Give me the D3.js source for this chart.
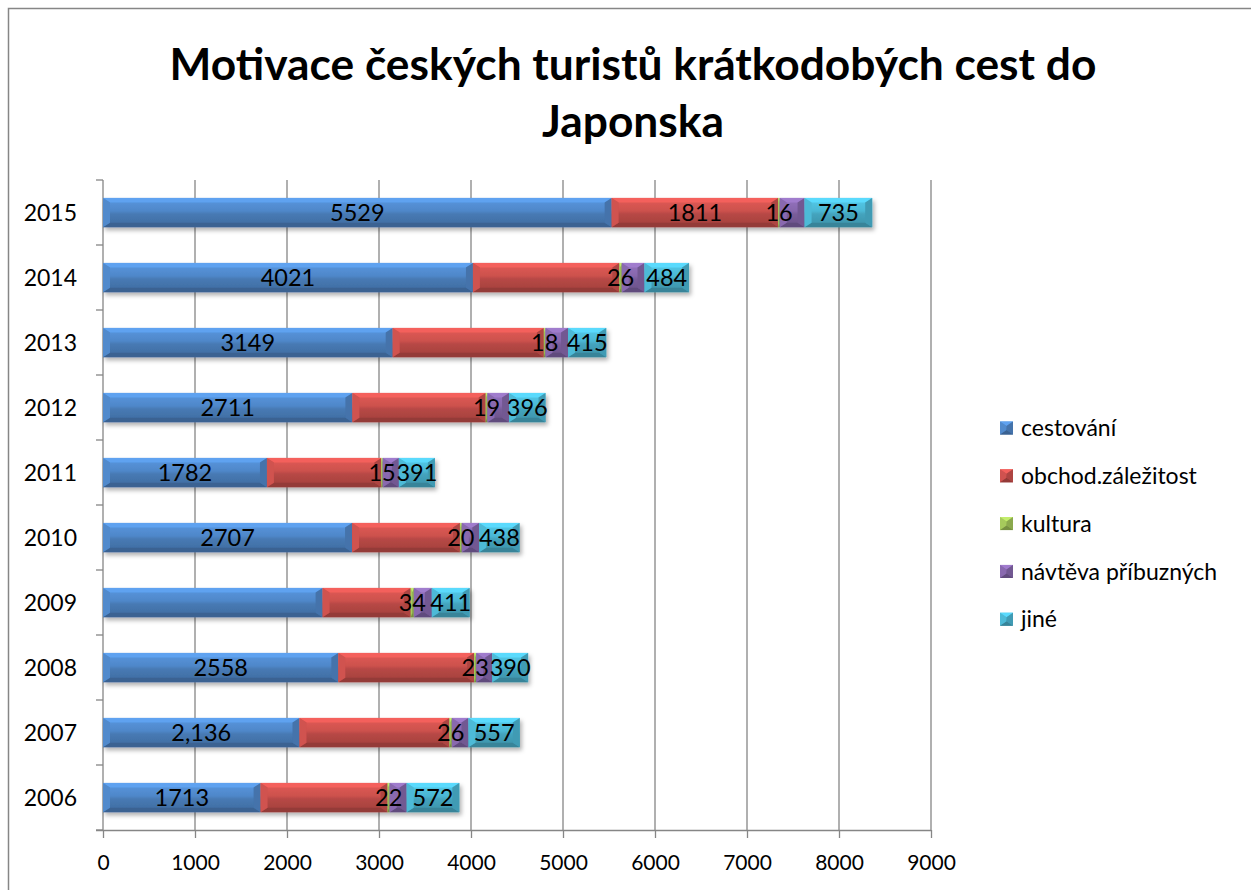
<!DOCTYPE html>
<html>
<head>
<meta charset="utf-8">
<script src="https://cdn.jsdelivr.net/npm/d3@7"></script>
<style>
  body { margin: 0; background: #fff; }
  text { font-family: Lato, "Open Sans", sans-serif; }
</style>
</head>
<body>
<div class="chart"></div>
<script>
// data
const years = ["2006", "2007", "2008", "2009", "2010", "2011", "2012", "2013", "2014", "2015"];
const seriesNames = ["cestování", "obchod.záležitost", "kultura", "návtěva příbuzných", "jiné"];
const cestovani = [1713, 2136, 2558, 2387, 2707, 1782, 2711, 3149, 4021, 5529];
const obchod = [1381, 1630, 1476, 958, 1173, 1244, 1449, 1643, 1592, 1811];
const kultura = [22, 26, 23, 34, 20, 15, 19, 18, 26, 16];
const navsteva = [185, 181, 174, 195, 190, 175, 235, 245, 247, 270];
const jine = [572, 557, 390, 411, 438, 391, 396, 415, 484, 735];
const xTicks = [0, 1000, 2000, 3000, 4000, 5000, 6000, 7000, 8000, 9000];

// which data labels are visible in the original
const labelShown = [
    y => y !== "2009",
    y => y === "2015",
    y => true,
    y => false,
    y => true
];
const commaYears = ["2007"];

const W = 1251, H = 890;
const colors = ["#4a7ebb", "#be4b48", "#98b954", "#7d60a0", "#46aac5"];
const gridColor = "#868686";

const svg = d3.select(".chart").append("svg")
    .attr("width", W)
    .attr("height", H);

const defs = svg.append("defs");
const shadow = defs.append("filter").attr("id", "shadow")
    .attr("x", "-5%").attr("y", "-30%").attr("width", "110%").attr("height", "170%");
shadow.append("feDropShadow")
    .attr("dx", 2).attr("dy", 3).attr("stdDeviation", 2)
    .attr("flood-color", "#000").attr("flood-opacity", 0.3);

colors.forEach((c, i) => {
    const g = defs.append("linearGradient").attr("id", "grad" + i)
        .attr("x1", 0).attr("y1", 0).attr("x2", 0).attr("y2", 1);
    g.append("stop").attr("offset", "0%").attr("stop-color", d3.color(c).brighter(0.5));
    g.append("stop").attr("offset", "45%").attr("stop-color", d3.color(c).brighter(0.2));
    g.append("stop").attr("offset", "55%").attr("stop-color", d3.color(c).darker(0.1));
    g.append("stop").attr("offset", "100%").attr("stop-color", d3.color(c).darker(0.45));
});

// chart frame
svg.append("rect")
    .attr("x", 8.5).attr("y", 8.5)
    .attr("width", 1400).attr("height", 1000)
    .attr("fill", "none")
    .attr("stroke", gridColor)
    .attr("stroke-width", 1.5);

// title
const titleLines = ["Motivace českých turistů krátkodobých cest do", "Japonska"];
const title = svg.append("g").attr("class", "title");
const t1 = title.append("text")
    .attr("x", 633).attr("y", 80)
    .attr("text-anchor", "middle")
    .style("font-weight", "bold")
    .style("font-size", "40px")
    .text(titleLines[0]);
const fit = 40 * 927 / t1.node().getComputedTextLength();
t1.style("font-size", fit + "px");
title.append("text")
    .attr("x", 633).attr("y", 137)
    .attr("text-anchor", "middle")
    .style("font-weight", "bold")
    .style("font-size", fit + "px")
    .text(titleLines[1]);

// scales
const x = d3.scaleLinear()
    .domain([0, 9000])
    .range([103, 931]);

const y = d3.scaleBand()
    .domain(years.slice().reverse())
    .range([180, 830])
    .paddingInner(0.55)
    .paddingOuter(0.275);

// gridlines
svg.append("g").selectAll("line")
    .data(xTicks.slice(1))
    .enter()
    .append("line")
    .attr("x1", d => x(d)).attr("x2", d => x(d))
    .attr("y1", 180).attr("y2", 830)
    .attr("stroke", gridColor)
    .attr("stroke-width", 1.3);

// y axis line and ticks between categories
svg.append("line")
    .attr("x1", x(0)).attr("x2", x(0))
    .attr("y1", 180).attr("y2", 830)
    .attr("stroke", gridColor).attr("stroke-width", 1.3);
svg.append("g").selectAll("line")
    .data(d3.range(years.length + 1))
    .enter()
    .append("line")
    .attr("x1", x(0) - 7).attr("x2", x(0))
    .attr("y1", i => 180 + i * y.step())
    .attr("y2", i => 180 + i * y.step())
    .attr("stroke", gridColor).attr("stroke-width", 1.3);

// year labels
svg.append("g").selectAll("text")
    .data(years)
    .enter()
    .append("text")
    .attr("x", 77)
    .attr("y", d => y(d) + y.bandwidth() / 2)
    .attr("dy", "0.36em")
    .attr("text-anchor", "end")
    .style("font-size", "23px")
    .text(d => d);

// x axis
const xAxis = svg.append("g")
    .attr("transform", "translate(0,830)")
    .call(d3.axisBottom(x).tickValues(xTicks).tickSize(8).tickPadding(17).tickFormat(d3.format("d")));
xAxis.select(".domain").attr("stroke", gridColor).attr("stroke-width", 1.3)
    .attr("d", `M${x(0) - 7},0.5H${x(9000)}`);
xAxis.selectAll(".tick line").attr("stroke", gridColor).attr("stroke-width", 1.3);
xAxis.selectAll(".tick text")
    .style("font-family", "Lato, sans-serif")
    .style("font-size", "21px")
    .attr("fill", "#000");

// stacked data
const allSeries = [cestovani, obchod, kultura, navsteva, jine];
const rows = years.map((yr, i) => {
    const r = { year: yr };
    seriesNames.forEach((s, k) => r[s] = allSeries[k][i]);
    return r;
});
const stacked = d3.stack().keys(seriesNames)(rows);

function bevel(g, x0, x1, y0, y1, k) {
    const c = d3.color(colors[k]);
    const w = x1 - x0, h = y1 - y0;
    const b = Math.min(7, w / 2), t = Math.min(4.5, h / 2);
    const poly = pts => pts.map(p => p.join(",")).join(" ");
    g.append("rect")
        .attr("x", x0).attr("y", y0).attr("width", w).attr("height", h)
        .attr("fill", `url(#grad${k})`);
    g.append("polygon")
        .attr("points", poly([[x0, y0], [x1, y0], [x1 - b, y0 + t], [x0 + b, y0 + t]]))
        .attr("fill", c.brighter(0.7));
    g.append("polygon")
        .attr("points", poly([[x0, y1], [x1, y1], [x1 - b, y1 - t], [x0 + b, y1 - t]]))
        .attr("fill", c.darker(0.7));
    g.append("polygon")
        .attr("points", poly([[x0, y0], [x0 + b, y0 + t], [x0 + b, y1 - t], [x0, y1]]))
        .attr("fill", c.brighter(0.25));
    g.append("polygon")
        .attr("points", poly([[x1, y0], [x1 - b, y0 + t], [x1 - b, y1 - t], [x1, y1]]))
        .attr("fill", c.darker(0.25));
}

const bars = svg.append("g").attr("filter", "url(#shadow)");
stacked.forEach((layer, k) => {
    layer.forEach(d => {
        const g = bars.append("g");
        bevel(g, x(d[0]), x(d[1]), y(d.data.year), y(d.data.year) + y.bandwidth(), k);
    });
});

// data labels
const labels = svg.append("g");
stacked.forEach((layer, k) => {
    labels.selectAll(null)
        .data(layer.filter(d => labelShown[k](d.data.year)))
        .enter()
        .append("text")
        .attr("x", d => x((d[0] + d[1]) / 2))
        .attr("y", d => y(d.data.year) + y.bandwidth() / 2)
        .attr("dy", "0.36em")
        .attr("text-anchor", "middle")
        .style("font-size", "23.5px")
        .text(d => {
            const v = d[1] - d[0];
            return commaYears.includes(d.data.year) && k === 0 ? d3.format(",")(v) : String(v);
        });
});

// legend
const legend = svg.append("g");
const legendItems = legend.selectAll("g")
    .data(seriesNames)
    .enter()
    .append("g")
    .attr("transform", (d, i) => `translate(1000, ${428 + i * 47.8})`);
legendItems.each(function (d, i) {
    bevel(d3.select(this), 0, 13, -6.5, 6.5, i);
});
legendItems.append("text")
    .attr("x", 21)
    .attr("dy", "0.36em")
    .style("font-size", "23px")
    .text(d => d);
</script>
</body>
</html>
